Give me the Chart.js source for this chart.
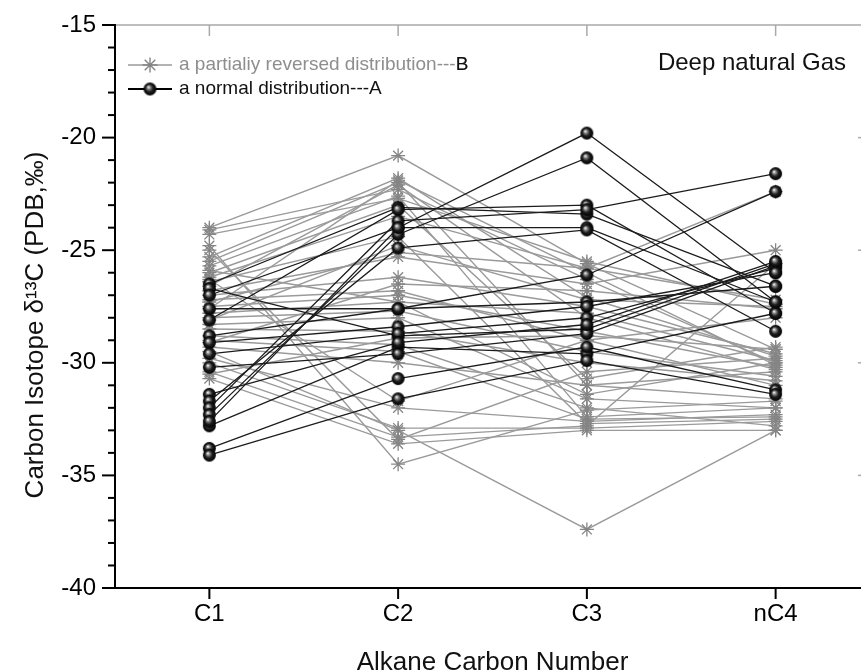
<!DOCTYPE html>
<html><head><meta charset="utf-8">
<script src="https://cdn.jsdelivr.net/npm/chart.js@4/dist/chart.umd.min.js"></script>
<style>
html,body{margin:0;padding:0;background:#fff;overflow:hidden;width:861px;height:672px;}
#wrap{position:relative;width:880px;height:672px;}
canvas{display:block;}
</style></head><body>
<div id="wrap"><canvas id="c" width="880" height="672"></canvas></div>
<script>
// ---- data ----
const categories = ['C1', 'C2', 'C3', 'nC4'];
const yMin = -40, yMax = -15, yMajorStep = 5, yMinorStep = 1;
const legendLabels = ['a partialiy reversed distribution---B', 'a normal distribution---A'];
const panelLabel = 'Deep natural Gas';
const xTitle = 'Alkane Carbon Number';
const yTitle = 'Carbon Isotope \u03b4\u00b9\u00b3C (PDB,\u2030)';

// a normal distribution --- A  (values for C1, C2, C3, nC4)
const normalSeries = [
  [-34.1, -31.6, -29.9, -31.4],
  [-33.8, -30.7, -29.3, -31.2],
  [-32.6, -24.0, -19.8, -26.0],
  [-32.3, -24.3, -20.9, -27.3],
  [-32.0, -23.7, -23.2, -21.6],
  [-31.7, -24.9, -24.1, -28.6],
  [-31.4, -29.1, -28.3, -25.5],
  [-30.2, -29.6, -28.7, -25.7],
  [-29.6, -28.7, -28.0, -25.8],
  [-29.1, -28.4, -27.5, -26.0],
  [-28.8, -27.6, -26.1, -22.4],
  [-28.1, -23.2, -23.0, -27.8],
  [-27.6, -27.6, -27.3, -26.6],
  [-27.0, -24.0, -24.0, -27.3],
  [-26.7, -28.8, -28.5, -25.6],
  [-26.5, -23.1, -23.4, -26.6],
  [-32.8, -29.3, -29.6, -27.8]
];

// a partially reversed distribution --- B  (values for C1, C2, C3, nC4)
const reversedSeries = [
  [-24.0, -20.8, -25.6, -29.4],
  [-24.1, -22.3, -26.3, -30.0],
  [-24.8, -34.5, -32.1, -31.7],
  [-25.3, -21.8, -27.1, -29.7],
  [-25.5, -22.0, -31.0, -30.4],
  [-25.7, -22.6, -32.4, -32.0],
  [-26.0, -23.0, -30.7, -29.3],
  [-26.2, -23.5, -25.8, -22.4],
  [-26.4, -24.4, -32.7, -32.5],
  [-26.8, -25.3, -26.5, -25.0],
  [-27.0, -26.2, -27.5, -29.6],
  [-27.2, -26.8, -29.0, -31.0],
  [-27.5, -27.0, -28.6, -30.2],
  [-27.8, -27.3, -27.8, -29.9],
  [-28.0, -27.7, -29.5, -30.6],
  [-28.3, -28.0, -31.6, -32.0],
  [-28.5, -28.6, -30.0, -30.8],
  [-28.8, -29.2, -32.0, -32.8],
  [-29.0, -29.5, -32.5, -32.4],
  [-29.3, -30.0, -31.0, -31.6],
  [-29.5, -33.0, -37.4, -33.0],
  [-29.8, -32.0, -32.6, -32.3],
  [-30.0, -32.9, -32.9, -32.6],
  [-30.4, -33.3, -32.8, -25.6],
  [-30.7, -33.6, -33.0, -33.0],
  [-25.0, -33.4, -30.4, -29.8],
  [-26.3, -31.7, -29.0, -28.0],
  [-27.3, -25.1, -25.8, -27.2],
  [-28.1, -24.8, -27.2, -27.5],
  [-29.1, -26.5, -26.8, -27.6],
  [-30.5, -28.9, -28.8, -29.4],
  [-26.6, -22.1, -28.0, -30.3],
  [-27.6, -21.9, -26.0, -30.1],
  [-24.3, -22.7, -25.5, -27.4],
  [-25.9, -27.3, -31.4, -30.0]
];

// ---- styles ----
const FONT = '"Liberation Sans", Arial, Helvetica, sans-serif';
const GRAY_LINE = '#9a9a9a';
const GRAY_MARK = '#858585';
const BLACK_LINE = '#1c1c1c';

function makeSphere(r) {
  const d = Math.ceil(r * 2 + 2);
  const c = document.createElement('canvas');
  c.width = d; c.height = d;
  const g = c.getContext('2d');
  const cx = d / 2, cy = d / 2;
  const grad = g.createRadialGradient(cx - r * 0.25, cy - r * 0.3, r * 0.05, cx, cy, r);
  grad.addColorStop(0, '#f4f4f4');
  grad.addColorStop(0.22, '#8a8a8a');
  grad.addColorStop(0.55, '#1e1e1e');
  grad.addColorStop(1, '#000');
  g.fillStyle = grad;
  g.beginPath(); g.arc(cx, cy, r, 0, Math.PI * 2); g.fill();
  return c;
}
const sphere = makeSphere(6.5);

function drawStar(ctx, x, y, r) {
  ctx.beginPath();
  for (let k = 0; k < 4; k++) {
    const a = k * Math.PI / 4;
    ctx.moveTo(x - r * Math.cos(a), y - r * Math.sin(a));
    ctx.lineTo(x + r * Math.cos(a), y + r * Math.sin(a));
  }
  ctx.stroke();
}

const datasets = [];
normalSeries.forEach((vals, i) => datasets.push({
  label: 'A' + (i + 1), data: vals, order: 0,
  borderColor: BLACK_LINE, borderWidth: 1.3,
  pointStyle: sphere, pointRadius: 6.5, pointHoverRadius: 6.5
}));
reversedSeries.forEach((vals, i) => datasets.push({
  label: 'B' + (i + 1), data: vals, order: 1,
  borderColor: GRAY_LINE, borderWidth: 1.4,
  pointStyle: 'star', pointRadius: 7, pointBorderColor: GRAY_MARK,
  pointBorderWidth: 1.3, pointBackgroundColor: GRAY_MARK
}));

const decor = {
  id: 'decor',
  afterDraw(chart) {
    const ctx = chart.ctx;
    const {left, right, top, bottom} = chart.chartArea;
    const xs = chart.scales.x, ys = chart.scales.y;
    const line = (x1, y1, x2, y2) => { ctx.beginPath(); ctx.moveTo(x1, y1); ctx.lineTo(x2, y2); ctx.stroke(); };
    ctx.save();
    // top / right frame (light)
    ctx.strokeStyle = '#a9a9a9'; ctx.lineWidth = 1.5;
    line(left, top, right, top);
    line(right, top, right, bottom);
    categories.forEach((c, i) => { const x = xs.getPixelForValue(i); line(x, top, x, top + 11); });
    for (let v = yMin + yMajorStep; v < yMax; v += yMajorStep) {
      const y = ys.getPixelForValue(v); line(right - 12, y, right, y);
    }
    // left / bottom axes
    ctx.strokeStyle = '#000'; ctx.lineWidth = 2;
    line(left, top - 1, left, bottom + 1);
    line(left - 1, bottom, right, bottom);
    for (let v = yMin; v <= yMax; v += yMinorStep) {
      const y = ys.getPixelForValue(v);
      const len = (v % yMajorStep === 0) ? 13 : 7;
      line(left - len, y, left, y);
    }
    categories.forEach((c, i) => { const x = xs.getPixelForValue(i); line(x, bottom, x, bottom + 11); });

    // legend
    const lx1 = 128, lx2 = 172, lmx = 150, ltx = 179;
    const yB = 65, yA = 89;
    ctx.lineWidth = 1.6;
    ctx.strokeStyle = GRAY_LINE; line(lx1, yB, lx2, yB);
    ctx.strokeStyle = GRAY_MARK; ctx.lineWidth = 1.4; drawStar(ctx, lmx, yB, 7.5);
    ctx.strokeStyle = '#000'; ctx.lineWidth = 1.8; line(lx1, yA, lx2, yA);
    ctx.drawImage(sphere, lmx - sphere.width / 2, yA - sphere.height / 2);
    ctx.font = '19px ' + FONT; ctx.textBaseline = 'middle'; ctx.textAlign = 'left';
    ctx.fillStyle = '#8e8e8e';
    ctx.fillText(legendLabels[0], ltx, yB);
    const prefixW = ctx.measureText(legendLabels[0].slice(0, -1)).width;
    ctx.fillStyle = '#111';
    ctx.fillText(legendLabels[0].slice(-1), ltx + prefixW, yB);
    ctx.fillStyle = '#111';
    ctx.fillText(legendLabels[1], ltx, yA);

    // panel label
    ctx.font = '24px ' + FONT; ctx.textAlign = 'right'; ctx.fillStyle = '#111';
    ctx.fillText(panelLabel, 846, 63);

    // axis titles
    ctx.font = '26px ' + FONT; ctx.textAlign = 'center'; ctx.textBaseline = 'alphabetic';
    ctx.fillText(xTitle, (left + right) / 2, 670);
    ctx.save();
    ctx.translate(43, 325); ctx.rotate(-Math.PI / 2);
    ctx.textBaseline = 'alphabetic';
    ctx.fillText(yTitle, 0, 0);
    ctx.restore();
    ctx.restore();
  }
};

new Chart(document.getElementById('c'), {
  type: 'line',
  data: {labels: categories, datasets},
  options: {
    responsive: false, animation: false,
    layout: {padding: {top: 25, right: 10, left: 0, bottom: 0}},
    plugins: {legend: {display: false}, tooltip: {enabled: false}},
    elements: {line: {tension: 0}},
    scales: {
      x: {
        type: 'category', offset: true,
        grid: {display: false, drawTicks: false}, border: {display: false},
        ticks: {font: {family: FONT, size: 24}, color: '#000', padding: 12},
        afterFit(s) { s.height = 84; }
      },
      y: {
        min: yMin, max: yMax,
        grid: {display: false, drawTicks: false}, border: {display: false},
        ticks: {
          stepSize: yMinorStep, autoSkip: false, padding: 19,
          font: {family: FONT, size: 24, lineHeight: 0.4}, color: '#000',
          callback: v => (v % yMajorStep === 0 ? String(v) : '')
        },
        afterFit(s) { s.width = 115; }
      }
    }
  },
  plugins: [decor]
});
</script>
</body></html>
